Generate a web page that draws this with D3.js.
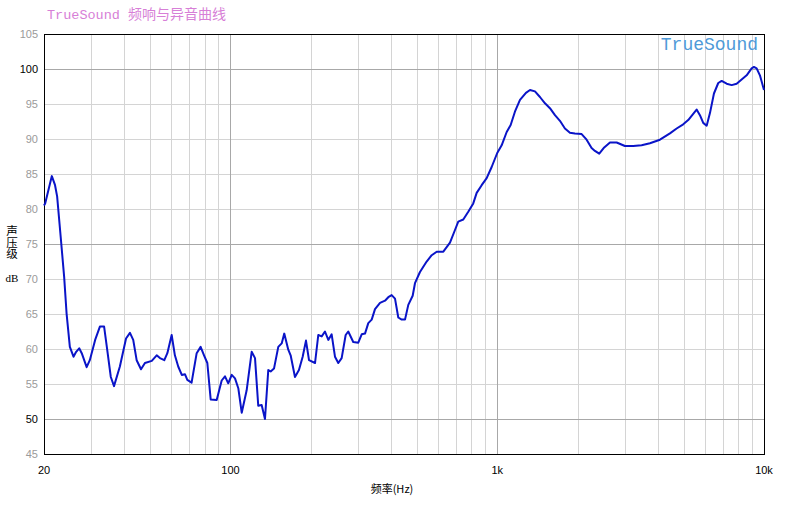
<!DOCTYPE html>
<html><head><meta charset="utf-8">
<script src="https://cdn.jsdelivr.net/npm/d3@7"></script>
<style>body{margin:0;background:#fff}svg{display:block}</style>
</head><body>
<script>
const freqs = [20,20.2,21.4,22.0,22.4,23.1,23.8,24.3,25.0,25.8,26.4,27.1,27.7,28.9,29.7,31.1,32.4,33.6,34.4,35.6,36.6,38.5,40.6,42.0,
43.2,44.5,46.2,47.8,50.7,52.9,54.4,56.5,58.0,60.2,61.9,63.7,65.7,67.5,68.9,71.5,74.7,77.3,79.6,81.9,84.3,88.8,92.7,95.4,98.1,101.1,104.0,107.0,110.2,115.0,120.1,123.6,127.1,130.9,134.7,138.6,141.5,145.6,151.1,155.6,159.1,164.7,168.1,174.5,180.6,186.5,191.9,197.0,207.5,213.4,219.8,226.1,232.7,239.5,246.5,253.6,261.1,270.3,276.4,288.6,301.4,310.4,319.4,328.6,338.4,348.2,363.6,379.6,390.5,402.1,413.8,425.7,438.4,451.1,464.1,482.0,491.7,513.3,543.8,568.0,593.0,627.9,665.1,694.4,714.4,745.9,778.8,813.1,837.4,874.3,912.9,953.1,1000,1039,1085,1123,1165,1217,1281,1327,1385,1446,1510,1576,1646,1718,1794,1873,1955,2072,2163,2258,2324,2412,2518,2646,2803,3011,3234,3477,3736,4073,4440,4705,4980,5199,5428,5590,5752,5918,6096,6272,6492,6738,6939,7245,7564,7897,8245,8608,8988,9168,9384,9654,10000];
const spl = [80.5,80.8,84.7,83.4,81.8,76.0,70.3,65.1,60.3,58.9,59.6,60.1,59.4,57.4,58.4,61.3,63.2,63.2,60.3,56.0,54.7,57.5,61.5,62.3,
61.3,58.4,57.1,58.0,58.3,59.1,58.7,58.4,59.4,62.0,59.1,57.5,56.3,56.4,55.6,55.2,59.4,60.3,59.1,58.0,52.8,52.7,55.5,56.1,55.1,56.3,55.8,54.4,50.9,54.1,59.6,58.7,51.9,52.0,50.0,57.0,56.8,57.2,60.3,60.8,62.2,59.9,59.1,56.0,57.0,58.9,61.2,58.4,58.0,62.0,61.8,62.5,61.3,62.1,58.9,58.0,58.7,62.0,62.5,61.0,60.9,62.1,62.2,63.7,64.2,65.7,66.6,66.9,67.4,67.7,67.2,64.5,64.2,64.2,66.3,67.6,69.4,71.0,72.5,73.4,73.9,73.9,75.2,77.0,78.2,78.5,79.6,80.8,82.3,83.4,84.4,86.0,88.0,89.1,91.0,92.0,93.9,95.6,96.6,97.0,96.8,96.0,95.1,94.4,93.4,92.6,91.5,90.9,90.8,90.7,89.9,88.7,88.3,87.9,88.8,89.5,89.5,89.0,89.0,89.1,89.4,89.9,90.8,91.5,92.1,92.7,93.6,94.2,93.4,92.3,91.9,93.7,96.5,98.0,98.3,97.9,97.7,97.9,98.5,99.1,100.1,100.3,100.1,99.1,97.0];
const yTicks = [45,50,55,60,65,70,75,80,85,90,95,100,105];
const yMajor = [50,75,100];
const yBlackLabels = [50,100];
const xMinor = [30,40,50,60,70,80,90,200,300,400,500,600,700,800,900,2000,3000,4000,5000,6000,7000,8000,9000];
const xMajor = [100,1000];
const xLabels = [[20,"20"],[100,"100"],[1000,"1k"],[10000,"10k"]];
const titleMono = "TrueSound";
const titleCJK = "频响与异音曲线";
const watermark = "TrueSound";
const xTitle = "频率(Hz)";
const yTitle = "声压级";
const yUnit = "dB";

const W=802,H=505, L=44,R=764,T=34,B=454;
const svg=d3.select("body").append("svg").attr("width",W).attr("height",H);
const x=d3.scaleLog().domain([20,10000]).range([L,R]);
const y=d3.scaleLinear().domain([45,105]).range([B,T]);
const cx=v=>Math.round(x(v))+0.5, cy=v=>Math.round(y(v))+0.5;

const g=svg.append("g");
g.selectAll(".vminor").data(xMinor).join("line").attr("x1",cx).attr("x2",cx).attr("y1",T).attr("y2",B).attr("stroke","#d4d4d4");
g.selectAll(".hminor").data(yTicks.filter(v=>!yMajor.includes(v)&&v!==45&&v!==105)).join("line").attr("x1",L).attr("x2",R).attr("y1",cy).attr("y2",cy).attr("stroke","#d4d4d4");
g.selectAll(".vmajor").data(xMajor).join("line").attr("x1",cx).attr("x2",cx).attr("y1",T).attr("y2",B).attr("stroke","#a8a8a8");
g.selectAll(".hmajor").data(yMajor).join("line").attr("x1",L).attr("x2",R).attr("y1",cy).attr("y2",cy).attr("stroke","#a8a8a8");

svg.append("rect").attr("x",L+0.5).attr("y",T+0.5).attr("width",R-L).attr("height",B-T).attr("fill","none").attr("stroke","#000");

const data=freqs.map((f,i)=>[f,spl[i]]);
svg.append("path").datum(data).attr("fill","none").attr("stroke","#0a14c8").attr("stroke-width",2)
  .attr("stroke-linejoin","round")
  .attr("d",d3.line().x(d=>x(d[0])).y(d=>y(d[1])));

svg.selectAll(".yl").data(yTicks).join("text").attr("x",38).attr("y",d=>y(d)+4)
  .attr("text-anchor","end").attr("font-family","Liberation Sans, Arial, sans-serif").attr("font-size",11)
  .attr("fill",d=>yBlackLabels.includes(d)?"#000":"#9a9a9a").text(d=>d);

svg.selectAll(".xl").data(xLabels).join("text").attr("x",d=>x(d[0])).attr("y",474)
  .attr("text-anchor","middle").attr("font-family","Liberation Sans, Arial, sans-serif").attr("font-size",11)
  .attr("fill","#000").text(d=>d[1]);

svg.append("text").attr("x",392).attr("y",493).attr("text-anchor","middle")
  .attr("font-family","Noto Sans CJK SC, sans-serif").attr("font-size",11).attr("fill","#000").text(xTitle);

svg.append("text").attr("x",12).attr("y",225).attr("writing-mode","tb")
  .style("writing-mode","vertical-rl").style("text-orientation","upright")
  .attr("font-family","Noto Sans CJK SC, sans-serif").attr("font-size",11.5).attr("fill","#000").text(yTitle);
svg.append("text").attr("x",12).attr("y",282).attr("text-anchor","middle")
  .attr("font-family","Liberation Serif, serif").attr("font-size",11).attr("fill","#000").text(yUnit);

const t=svg.append("text").attr("x",47).attr("y",19).attr("fill","#d77fd7");
t.append("tspan").attr("font-family","Liberation Mono, Courier New, monospace").attr("font-size",13.5).text(titleMono+" ");
t.append("tspan").attr("font-family","Noto Sans CJK SC, sans-serif").attr("font-size",14).text(titleCJK);

svg.append("text").attr("x",758).attr("y",50).attr("text-anchor","end")
  .attr("font-family","Liberation Mono, Courier New, monospace").attr("font-size",18).attr("fill","#4f9ad8").text(watermark);
</script>
</body></html>
